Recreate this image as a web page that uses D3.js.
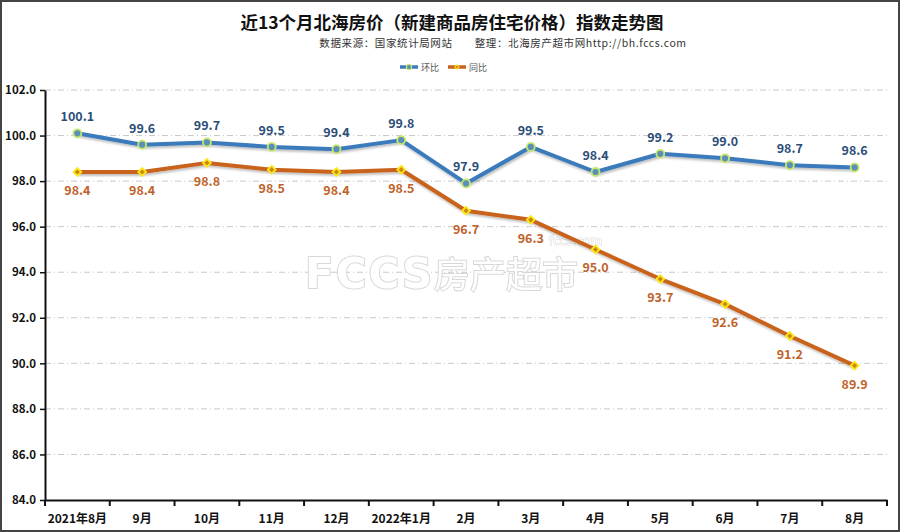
<!DOCTYPE html>
<html><head><meta charset="utf-8">
<script src="https://cdn.jsdelivr.net/npm/d3@7"></script>
<style>body{margin:0;background:#fff}svg{display:block}</style>
</head><body>
<script>
const categories = ["2021年8月","9月","10月","11月","12月","2022年1月","2月","3月","4月","5月","6月","7月","8月"];
const momValues = [100.1,99.6,99.7,99.5,99.4,99.8,97.9,99.5,98.4,99.2,99.0,98.7,98.6];
const yoyValues = [98.4,98.4,98.8,98.5,98.4,98.5,96.7,96.3,95.0,93.7,92.6,91.2,89.9];
const yTicks = [84,86,88,90,92,94,96,98,100,102];
const seriesNames = ["环比","同比"];
const titleText = "近13个月北海房价（新建商品房住宅价格）指数走势图";
const subtitleText = "数据来源：国家统计局网站　　整理：北海房产超市网http://bh.fccs.com";

(function(){
const W = 900, H = 532;
const svg = d3.select("body").append("svg").attr("width", W).attr("height", H);
const font = "'Noto Sans CJK SC','Noto Sans',sans-serif";

svg.append("rect").attr("x",1).attr("y",1).attr("width",W-2).attr("height",H-2)
  .attr("fill","#fff").attr("stroke","#444").attr("stroke-width",2);

const defs = svg.append("defs");
const f = defs.append("filter").attr("id","sh").attr("x","-10%").attr("y","-10%").attr("width","120%").attr("height","130%");
f.append("feDropShadow").attr("dx",1).attr("dy",2).attr("stdDeviation",1.2).attr("flood-color","#000").attr("flood-opacity",0.25);

const mL = 45, mR = 887, mT = 90, mB = 500;
const x = d3.scaleBand().domain(categories).range([mL, mR]);
const y = d3.scaleLinear().domain([84, 102]).range([mB, mT]);
const cx = d => x(d) + x.bandwidth()/2;

svg.append("text").attr("x",452).attr("y",29).attr("text-anchor","middle")
  .attr("font-family",font).attr("font-weight","bold").attr("font-size",17.5).attr("fill","#111").text(titleText);
svg.append("text").attr("x",503).attr("y",47).attr("text-anchor","middle")
  .attr("font-family",font).attr("font-size",10.5).attr("letter-spacing",0.6).attr("fill","#333").text(subtitleText);

svg.append("g").selectAll("line").data(yTicks.slice(1)).join("line")
  .attr("x1",mL).attr("x2",mR).attr("y1",d=>y(d)).attr("y2",d=>y(d))
  .attr("stroke","#c8c8c8").attr("stroke-width",1).attr("stroke-dasharray","6,3,1,3");

const wm = svg.append("g").attr("opacity",0.95);
wm.append("text").attr("x",305).attr("y",288).attr("font-family","'DejaVu Sans',sans-serif")
  .attr("font-weight","bold").attr("font-size",42).attr("fill","#fff").attr("stroke","#d6d6d6").attr("stroke-width",2)
  .attr("paint-order","stroke").attr("letter-spacing",2).text("FCCS");
wm.append("text").attr("x",434).attr("y",288).attr("font-family",font)
  .attr("font-size",36).attr("fill","#fff").attr("stroke","#d6d6d6").attr("stroke-width",2)
  .attr("paint-order","stroke").text("房产超市");
wm.append("text").attr("x",549).attr("y",245).attr("font-family","'DejaVu Sans',sans-serif")
  .attr("font-size",12).attr("fill","#fff").attr("stroke","#d6d6d6").attr("stroke-width",1)
  .attr("paint-order","stroke").text("fccs.com");

const yAxis = svg.append("g").attr("transform",`translate(${mL},0)`)
  .call(d3.axisLeft(y).tickValues(yTicks).tickFormat(d3.format(".1f")).tickSize(5).tickSizeOuter(0));
yAxis.select(".domain").attr("stroke","#111").attr("stroke-width",2);
yAxis.selectAll(".tick line").attr("stroke","#111").attr("stroke-width",1.5);
yAxis.selectAll("text").attr("font-family",font).attr("font-weight","bold").attr("font-size",11.5).attr("fill","#111").attr("dx",-1);

const xAxis = svg.append("g").attr("transform",`translate(0,${mB})`)
  .call(d3.axisBottom(x).tickSize(0).tickSizeOuter(0));
xAxis.select(".domain").attr("stroke","#111").attr("stroke-width",2);
xAxis.selectAll("text").attr("font-family",font).attr("font-weight","bold").attr("font-size",12).attr("fill","#111").attr("dy","1.65em");
const bounds = categories.map(c => x(c)).concat([mR]);
xAxis.selectAll("line.b").data(bounds).join("line").attr("class","b")
  .attr("x1",d=>d).attr("x2",d=>d).attr("y1",0).attr("y2",6).attr("stroke","#111").attr("stroke-width",2);

const line = d3.line().x((d,i)=>cx(categories[i])).y(d=>y(d));
const blue = "#3b7abb", orange = "#c9631c";

svg.append("path").datum(yoyValues).attr("d",line).attr("fill","none").attr("stroke",orange)
  .attr("stroke-width",4).attr("stroke-linejoin","round").attr("filter","url(#sh)");
svg.append("g").selectAll("path").data(yoyValues).join("path")
  .attr("d",d3.symbol(d3.symbolSquare,30)).attr("transform",(d,i)=>`translate(${cx(categories[i])},${y(d)}) rotate(45)`)
  .attr("fill","#c98a10").attr("stroke","#ffe71a").attr("stroke-width",1.8);
svg.append("g").selectAll("text").data(yoyValues).join("text")
  .attr("x",(d,i)=>cx(categories[i])).attr("y",d=>y(d)+23).attr("text-anchor","middle")
  .attr("font-family",font).attr("font-weight","bold").attr("font-size",12.5).attr("fill","#c0622a")
  .text(d=>d3.format(".1f")(d));

svg.append("path").datum(momValues).attr("d",line).attr("fill","none").attr("stroke",blue)
  .attr("stroke-width",4).attr("stroke-linejoin","round").attr("filter","url(#sh)");
svg.append("g").selectAll("circle").data(momValues).join("circle")
  .attr("cx",(d,i)=>cx(categories[i])).attr("cy",d=>y(d)).attr("r",4)
  .attr("fill","#5b8fb8").attr("stroke","#c6e86a").attr("stroke-width",1.8);
svg.append("g").selectAll("text").data(momValues).join("text")
  .attr("x",(d,i)=>cx(categories[i])).attr("y",d=>y(d)-12).attr("text-anchor","middle")
  .attr("font-family",font).attr("font-weight","bold").attr("font-size",12.5).attr("fill","#2b4e78")
  .text(d=>d3.format(".1f")(d));

const lg = svg.append("g").attr("transform","translate(0,67)");
lg.append("line").attr("x1",400).attr("x2",418).attr("y1",0).attr("y2",0).attr("stroke",blue).attr("stroke-width",3.5);
lg.append("circle").attr("cx",409).attr("cy",0).attr("r",2.6).attr("fill","#5b8fb8").attr("stroke","#c6e86a").attr("stroke-width",1.2);
lg.append("text").attr("x",421).attr("y",3.5).attr("font-family",font).attr("font-size",9).attr("fill","#555").text(seriesNames[0]);
lg.append("line").attr("x1",448).attr("x2",466).attr("y1",0).attr("y2",0).attr("stroke",orange).attr("stroke-width",3.5);
lg.append("path").attr("d",d3.symbol(d3.symbolSquare,10)).attr("transform","translate(457,0) rotate(45)").attr("fill","#c98a10").attr("stroke","#ffe71a").attr("stroke-width",1);
lg.append("text").attr("x",469).attr("y",3.5).attr("font-family",font).attr("font-size",9).attr("fill","#555").text(seriesNames[1]);
})();
</script>
</body></html>
